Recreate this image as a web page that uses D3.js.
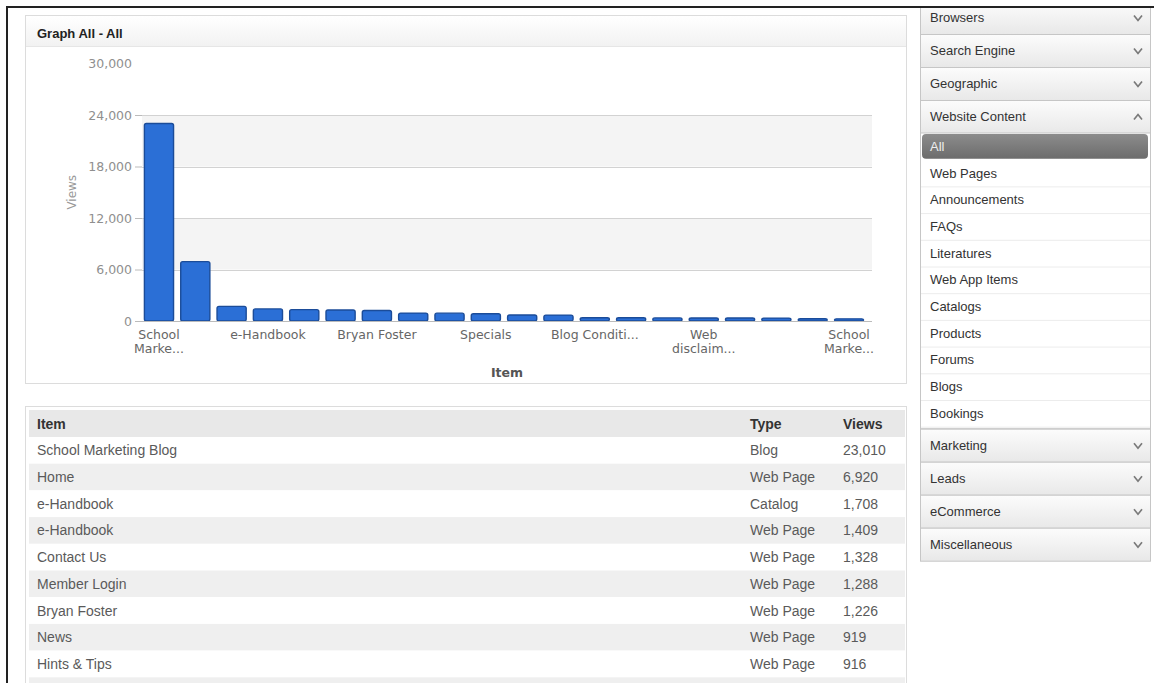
<!DOCTYPE html>
<html>
<head>
<meta charset="utf-8">
<script src="https://cdn.jsdelivr.net/npm/d3@7"></script>
<style>
  html, body { margin: 0; padding: 0; background: #fff; }
  svg { display: block; }
</style>
</head>
<body>
<svg id="page" width="1154" height="683"></svg>
<script>
// bar chart data (top 20 items by views)
const barIndex = d3.range(20);
const barViews = [23010, 6920, 1708, 1409, 1328, 1288, 1226, 919, 916, 850, 700, 690, 380, 370, 360, 350, 350, 340, 260, 250];
// which bars get a label on the x axis, and the label lines
const tickIndex = [0, 3, 6, 9, 12, 15, 19];
const tickLines = [["School", "Marke..."], ["e-Handbook"], ["Bryan Foster"], ["Specials"], ["Blog Conditi..."], ["Web", "disclaim..."], ["School", "Marke..."]];
const yTicks = [0, 6000, 12000, 18000, 24000, 30000];

// table rows
const rowItems = ["School Marketing Blog", "Home", "e-Handbook", "e-Handbook", "Contact Us", "Member Login", "Bryan Foster", "News", "Hints & Tips"];
const rowTypes = ["Blog", "Web Page", "Catalog", "Web Page", "Web Page", "Web Page", "Web Page", "Web Page", "Web Page"];
const rowViews = [23010, 6920, 1708, 1409, 1328, 1288, 1226, 919, 916];

// side menu
const menuTop = ["Browsers", "Search Engine", "Geographic", "Website Content"];
const menuSub = ["All", "Web Pages", "Announcements", "FAQs", "Literatures", "Web App Items", "Catalogs", "Products", "Forums", "Blogs", "Bookings"];
const menuBottom = ["Marketing", "Leads", "eCommerce", "Miscellaneous"];

const svg = d3.select("#page");
const defs = svg.append("defs");

function grad(id, c1, c2) {
    const g = defs.append("linearGradient").attr("id", id).attr("x1", 0).attr("y1", 0).attr("x2", 0).attr("y2", 1);
    g.append("stop").attr("offset", "0%").attr("stop-color", c1);
    g.append("stop").attr("offset", "100%").attr("stop-color", c2);
}
grad("hdr", "#ffffff", "#f2f2f2");
grad("menuHdr", "#fcfcfc", "#e8e8e8");
grad("sel", "#8c8c8c", "#6c6c6c");

const sans = "'Liberation Sans', Arial, sans-serif";
const verd = "'DejaVu Sans', Verdana, sans-serif";

// ---------- chart panel ----------
svg.append("rect").attr("x", 25.5).attr("y", 15.5).attr("width", 881).attr("height", 368)
    .attr("fill", "#fff").attr("stroke", "#dcdcdc");
svg.append("rect").attr("x", 26).attr("y", 16).attr("width", 880).attr("height", 30).attr("fill", "url(#hdr)");
svg.append("line").attr("x1", 26).attr("x2", 906).attr("y1", 46.5).attr("y2", 46.5).attr("stroke", "#e6e6e6");
svg.append("text").attr("x", 37).attr("y", 37.5).text("Graph All - All")
    .style("font-family", sans).style("font-size", "13px").style("font-weight", "bold").style("fill", "#222");

const plotLeft = 142, plotRight = 872;

const x = d3.scaleBand()
    .domain(barIndex)
    .range([141, 867])
    .paddingInner(0.17)
    .paddingOuter(0.08);

const y = d3.scaleLinear()
    .domain([0, 30000])
    .range([321, 63.5]);

// alternating bands
const bands = [[18000, 24000], [6000, 12000]];
svg.append("g").selectAll("rect").data(bands).join("rect")
    .attr("x", plotLeft).attr("width", plotRight - plotLeft)
    .attr("y", d => y(d[1])).attr("height", d => y(d[0]) - y(d[1]))
    .attr("fill", "#f4f4f4");

// grid lines
svg.append("g").selectAll("line").data(yTicks.filter(d => d > 0 && d < 30000)).join("line")
    .attr("x1", plotLeft).attr("x2", plotRight)
    .attr("y1", d => Math.round(y(d)) + 0.5).attr("y2", d => Math.round(y(d)) + 0.5)
    .attr("stroke", "#d2d2d2");

// y axis
const yAxis = svg.append("g")
    .attr("transform", `translate(${plotLeft},0)`)
    .call(d3.axisLeft(y).tickValues(yTicks).tickFormat(d3.format(",")).tickSize(7).tickPadding(3));
yAxis.select(".domain").remove();
yAxis.selectAll(".tick line").attr("stroke", "#bbb").attr("opacity", d => d === 30000 ? 0 : 1);
yAxis.selectAll(".tick text").style("font-family", verd).style("font-size", "12.5px").style("fill", "#8f8f8f");

svg.append("text")
    .attr("transform", `translate(76,${y(15000)}) rotate(-90)`)
    .attr("text-anchor", "middle")
    .text("Views")
    .style("font-family", verd).style("font-size", "12px").style("fill", "#999");

// bars
svg.append("g").selectAll("rect").data(barIndex).join("rect")
    .attr("x", d => x(d) + 0.5)
    .attr("y", d => y(barViews[d]))
    .attr("width", x.bandwidth() - 1)
    .attr("height", d => y(0) - y(barViews[d]))
    .attr("rx", 2)
    .attr("fill", "#2b6fd6")
    .attr("stroke", "#1b4c99")
    .attr("stroke-width", 1.4);

// x axis
svg.append("line").attr("x1", plotLeft).attr("x2", plotRight)
    .attr("y1", y(0) + 0.5).attr("y2", y(0) + 0.5).attr("stroke", "#bbb");

const xAxis = svg.append("g")
    .attr("transform", `translate(0,${y(0)})`)
    .call(d3.axisBottom(x).tickValues(tickIndex).tickSize(0).tickFormat(""));
xAxis.select(".domain").remove();
xAxis.selectAll(".tick").each(function (d, i) {
    const t = d3.select(this).append("text")
        .attr("text-anchor", "middle")
        .style("font-family", verd).style("font-size", "12.5px").style("fill", "#666");
    tickLines[i].forEach((s, j) => {
        t.append("tspan").attr("x", 0).attr("y", 17.5 + j * 14).text(s);
    });
});

svg.append("text")
    .attr("x", (plotLeft + plotRight) / 2).attr("y", 377)
    .attr("text-anchor", "middle")
    .text("Item")
    .style("font-family", verd).style("font-size", "12.5px").style("font-weight", "bold").style("fill", "#555");

// ---------- table panel ----------
const rowH = 26.7, tableTop = 437;
svg.append("rect").attr("x", 25.5).attr("y", 406.5).attr("width", 881).attr("height", 300)
    .attr("fill", "#fff").attr("stroke", "#dcdcdc");
svg.append("rect").attr("x", 29).attr("y", 410).attr("width", 876).attr("height", tableTop - 410).attr("fill", "#e8e8e8");

const colX = [37, 750, 843];
const heads = ["Item", "Type", "Views"];
svg.append("g").selectAll("text").data(heads).join("text")
    .attr("x", (d, i) => colX[i]).attr("y", 429)
    .text(d => d)
    .style("font-family", sans).style("font-size", "14px").style("font-weight", "bold").style("fill", "#333");

// row backgrounds (one extra row peeks in at the bottom)
svg.append("g").selectAll("rect").data(d3.range(rowItems.length + 1)).join("rect")
    .attr("x", 29).attr("width", 876)
    .attr("y", i => tableTop + i * rowH).attr("height", rowH)
    .attr("fill", i => i % 2 ? "#efefef" : "#fff");

const rows = svg.append("g").selectAll("g").data(d3.range(rowItems.length)).join("g")
    .attr("transform", i => `translate(0,${tableTop + i * rowH + rowH / 2 + 5})`)
    .style("font-family", sans).style("font-size", "14px").style("fill", "#5a5a5a");
rows.append("text").attr("x", colX[0]).text(i => rowItems[i]);
rows.append("text").attr("x", colX[1]).text(i => rowTypes[i]);
rows.append("text").attr("x", colX[2]).text(i => d3.format(",")(rowViews[i]));

// ---------- side menu ----------
const menuX = 920, menuW = 230, hdrH = 33, subH = 26.7;
const menu = svg.append("g");

function chevron(g, cy, up) {
    const dy = up ? -2.5 : 2.5;
    g.append("path")
        .attr("d", `M${1134},${cy - dy} L${1138},${cy + dy} L${1142},${cy - dy}`)
        .attr("fill", "none").attr("stroke", "#7a7a7a").attr("stroke-width", 1.7);
}

function header(label, y0, up) {
    menu.append("rect").attr("x", menuX + 0.5).attr("y", y0 + 0.5).attr("width", menuW).attr("height", hdrH)
        .attr("fill", "url(#menuHdr)").attr("stroke", "#c6c6c6");
    menu.append("text").attr("x", 930).attr("y", y0 + hdrH / 2 + 4.5).text(label)
        .style("font-family", sans).style("font-size", "13px").style("fill", "#333");
    chevron(menu, y0 + hdrH / 2 + 0.5, up);
}

let curY = 1;
menuTop.forEach((m, i) => { header(m, curY, i === menuTop.length - 1); curY += hdrH; });

const subTop = curY;
menu.append("rect").attr("x", menuX + 0.5).attr("y", subTop).attr("width", menuW).attr("height", subH * menuSub.length + 2)
    .attr("fill", "#fff").attr("stroke", "#c6c6c6");
menuSub.forEach((m, i) => {
    const ty = subTop + i * subH;
    if (i === 0) {
        menu.append("rect").attr("x", 922).attr("y", ty + 1).attr("width", 226).attr("height", subH - 2)
            .attr("rx", 4).attr("fill", "url(#sel)");
    } else {
        menu.append("line").attr("x1", 921).attr("x2", 1150).attr("y1", ty + subH + 0.5).attr("y2", ty + subH + 0.5)
            .attr("stroke", "#ececec");
    }
    menu.append("text").attr("x", 930).attr("y", ty + subH / 2 + 4.5).text(m)
        .style("font-family", sans).style("font-size", "13px").style("fill", i === 0 ? "#eee" : "#333");
});
curY = subTop + subH * menuSub.length + 2;
menuBottom.forEach(m => { header(m, curY, false); curY += hdrH; });

// ---------- outer frame ----------
svg.append("rect").attr("x", 0).attr("y", 0).attr("width", 1154).attr("height", 6).attr("fill", "#fff");
svg.append("line").attr("x1", 6).attr("x2", 1154).attr("y1", 7).attr("y2", 7).attr("stroke", "#222").attr("stroke-width", 2);
svg.append("line").attr("x1", 7).attr("x2", 7).attr("y1", 6).attr("y2", 683).attr("stroke", "#222").attr("stroke-width", 2);
</script>
</body>
</html>
